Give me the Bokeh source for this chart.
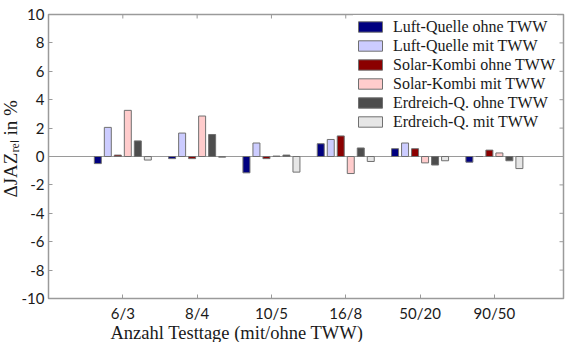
from math import pi
from bokeh.plotting import figure
from bokeh.models import (Range1d, FixedTicker, Legend, LegendItem, Title, Span)
from bokeh.embed import file_html
from bokeh.resources import INLINE

# ---- data ----
categories = ["6/3", "8/4", "10/5", "16/8", "50/20", "90/50"]
series_names = ["Luft-Quelle ohne TWW", "Luft-Quelle mit TWW",
                "Solar-Kombi ohne TWW", "Solar-Kombi mit TWW",
                "Erdreich-Q. ohne TWW", "Erdreich-Q. mit TWW"]
luft_ohne = [-0.5, -0.15, -1.15, 0.9, 0.55, -0.4]
luft_mit = [2.05, 1.65, 0.95, 1.2, 0.95, 0.0]
solar_ohne = [0.1, -0.15, -0.15, 1.45, 0.55, 0.45]
solar_mit = [3.25, 2.85, 0.03, -1.2, -0.45, 0.25]
erd_ohne = [1.1, 1.55, 0.1, 0.6, -0.6, -0.3]
erd_mit = [-0.25, -0.05, -1.1, -0.35, -0.3, -0.85]
y_ticks = [-10, -8, -6, -4, -2, 0, 2, 4, 6, 8, 10]

series_values = [luft_ohne, luft_mit, solar_ohne, solar_mit, erd_ohne, erd_mit]
colors = ["#000080", "#ccccff", "#8b0000", "#ffcccc", "#4d4d4d", "#e6e6e6"]

GRAY = "#9a9a9a"
TICK_FONT = "Lato"
SERIF = "Liberation Serif"
X_MIN, X_MAX = 0, 6.93
Y_MIN, Y_MAX = -10, 10

p = figure(width=566, height=342, output_backend="svg", toolbar_location=None,
           x_range=Range1d(X_MIN, X_MAX), y_range=Range1d(Y_MIN, Y_MAX),
           min_border_left=48, min_border_right=3, min_border_top=14,
           min_border_bottom=44)
p.background_fill_color = "white"
p.border_fill_color = "white"
p.outline_line_color = GRAY
p.outline_line_width = 1.5
p.xgrid.grid_line_color = None
p.ygrid.grid_line_color = None

xs_base = list(range(1, len(categories) + 1))
step = 0.1346
bar_w = 0.094

p.add_layout(Span(location=0, dimension="width", line_color=GRAY,
                  line_width=1, level="underlay"))

renderers = []
for k, (vals, col) in enumerate(zip(series_values, colors)):
    off = (k - 2.5) * step
    r = p.vbar(x=[x + off for x in xs_base], top=vals, bottom=0, width=bar_w,
               fill_color=col, line_color="#707070", line_width=1)
    renderers.append(r)

# inward ticks on the top and right edges (clipped half-dashes)
p.scatter(x=xs_base, y=[Y_MAX] * len(xs_base), marker="dash", size=8,
          angle=pi / 2, line_color=GRAY, line_width=1)
p.scatter(x=[X_MAX] * len(y_ticks), y=y_ticks, marker="dash", size=8,
          line_color=GRAY, line_width=1)

# axes
xt = FixedTicker(ticks=xs_base)
yt = FixedTicker(ticks=y_ticks)
for ax in p.xaxis:
    ax.ticker = xt
    ax.major_label_overrides = {i: c for i, c in zip(xs_base, categories)}
for ax in p.yaxis:
    ax.ticker = yt
    ax.major_label_overrides = {t: str(t) for t in y_ticks}
for ax in list(p.xaxis) + list(p.yaxis):
    ax.axis_line_color = None
    ax.major_tick_in = 4
    ax.major_tick_out = 0
    ax.major_tick_line_color = GRAY
    ax.minor_tick_line_color = None
    ax.major_label_text_font = TICK_FONT
    ax.major_label_text_font_size = "15px"
    ax.major_label_text_color = "#1a1a1a"
p.xaxis.major_label_standoff = 5
p.yaxis.major_label_standoff = 4

# axis titles
xtitle = Title(text="Anzahl Testtage (mit/ohne TWW)", align="left", offset=62,
               text_font=SERIF, text_font_size="18.5px", text_font_style="normal",
               text_color="#1a1a1a", standoff=-4, vertical_align="top")
p.add_layout(xtitle, "below")
ytitle = Title(text="\u0394JAZ\u1d63\u2091\u2097 in %", align="left", offset=101,
               text_font=SERIF, text_font_size="19px", text_font_style="normal",
               text_color="#1a1a1a", standoff=-5)
p.add_layout(ytitle, "left")

legend = Legend(items=[LegendItem(label=n, renderers=[r])
                       for n, r in zip(series_names, renderers)],
                location=(305, 165))
legend.label_text_font = SERIF
legend.label_text_font_size = "16px"
legend.label_text_color = "#1a1a1a"
legend.glyph_width = 30
legend.glyph_height = 13
legend.label_height = 19
legend.label_standoff = 8
legend.spacing = 0
legend.padding = 2
legend.margin = 0
legend.border_line_alpha = 0
legend.background_fill_color = "white"
legend.background_fill_alpha = 1
p.add_layout(legend)

open("out.html", "w").write(file_html(p, INLINE))
